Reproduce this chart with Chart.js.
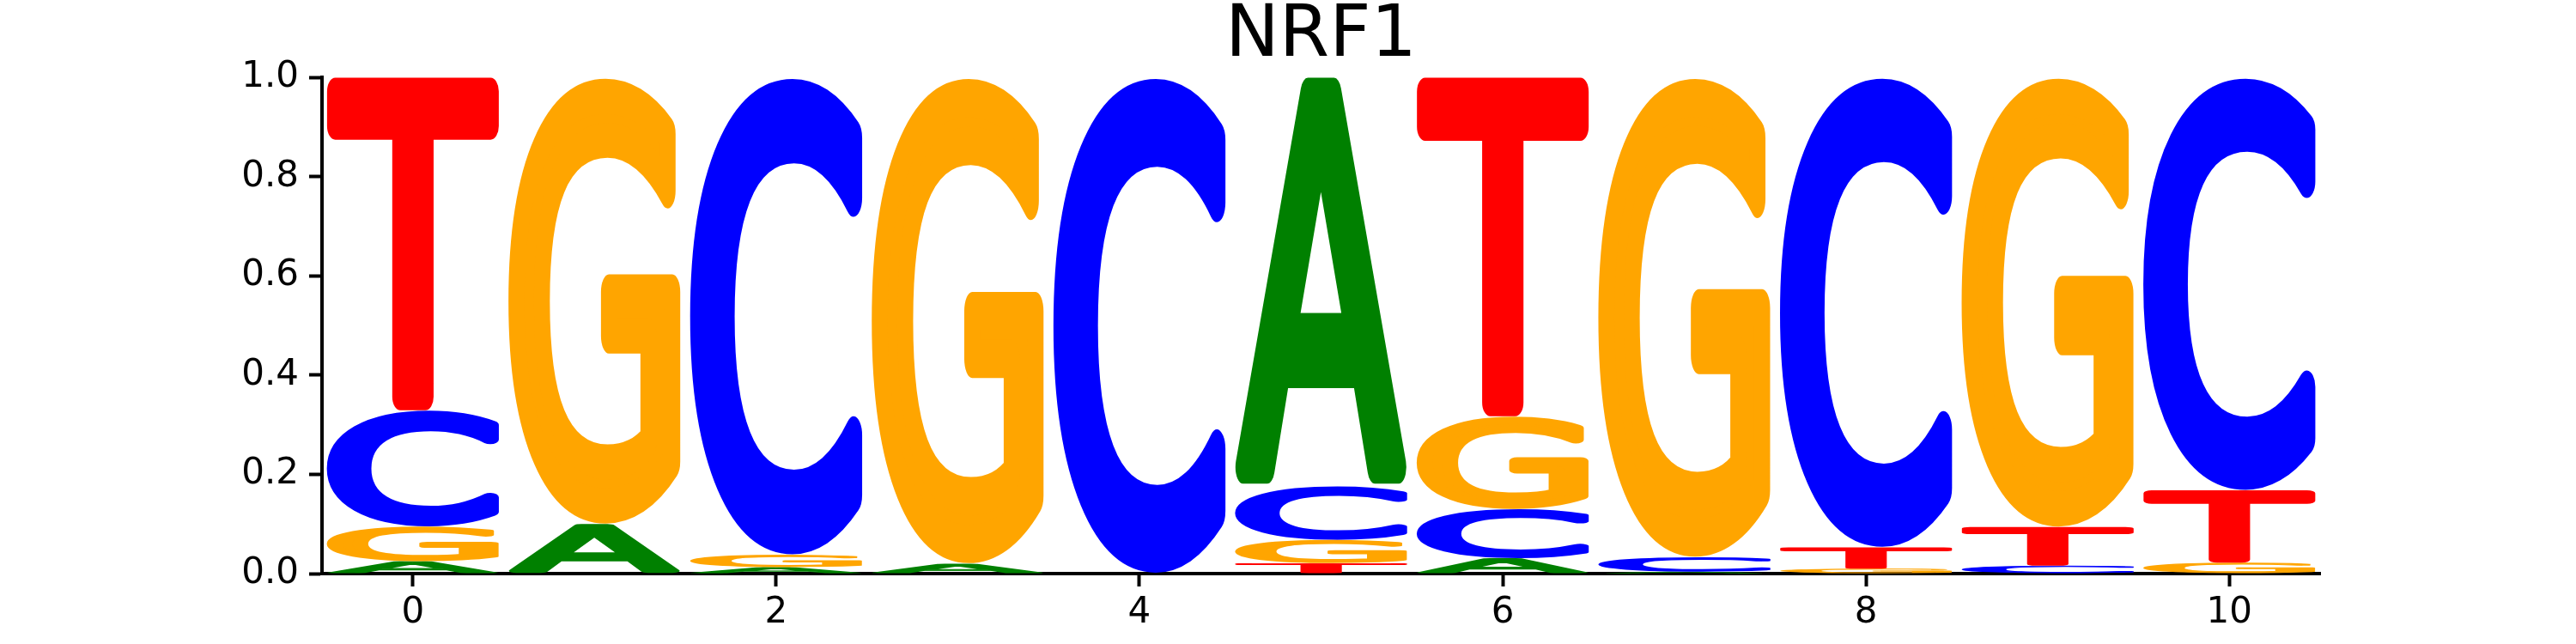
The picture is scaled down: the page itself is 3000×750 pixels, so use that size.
<!DOCTYPE html>
<html>
<head>
<meta charset="utf-8">
<script src="https://cdn.jsdelivr.net/npm/chart.js@4"></script>
<style>
  html, body { margin: 0; padding: 0; background: #fff; }
  canvas { display: block; }
</style>
</head>
<body>
<canvas id="myChart" width="3000" height="750"></canvas>
<script>
// letter probabilities per motif position
var positions = [0, 1, 2, 3, 4, 5, 6, 7, 8, 9, 10];
var probA = [0.025, 0.10, 0.013, 0.02, 0.0, 0.824, 0.031, 0.004, 0.0, 0.0, 0.0];
var probC = [0.234, 0.0, 0.962, 0.0, 1.0, 0.108, 0.099, 0.029, 0.947, 0.016, 0.832];
var probG = [0.07, 0.90, 0.025, 0.98, 0.0, 0.047, 0.187, 0.967, 0.01, 0.906, 0.022];
var probT = [0.671, 0.0, 0.0, 0.0, 0.0, 0.021, 0.683, 0.0, 0.043, 0.078, 0.146];
var xTicks = [0, 2, 4, 6, 8, 10];
var yTicks = [0, 0.2, 0.4, 0.6, 0.8, 1.0];
var titleText = "NRF1";

var letters = ["A", "C", "G", "T"];
var probs = [probA, probC, probG, probT];
var
	green = "#008000",
	blue = "#0000ff",
	orange = "#ffa500",
	red = "#ff0000";
var colors = [green, blue, orange, red];

// stack letters smallest at the bottom, per position
var ranges = letters.map(function() { return []; });
positions.forEach(function(p, i) {
	var order = [0, 1, 2, 3].sort(function(a, b) { return probs[a][i] - probs[b][i]; });
	var acc = 0;
	order.forEach(function(k) {
		var v = probs[k][i];
		ranges[k].push({ x: p, y: [acc, acc + v] });
		acc += v;
	});
});

// rounded glyphs: regular face plus a round-joined outline
var glyphSize = 200;
var glyphFont = glyphSize + "px 'DejaVu Sans'";
var glyphStroke = 0.065 * glyphSize;

var letterPlugin = {
	id: "letters",
	afterDatasetsDraw: function(chart) {
		var ctx = chart.ctx;
		chart.data.datasets.forEach(function(ds, di) {
			var meta = chart.getDatasetMeta(di);
			meta.data.forEach(function(el, j) {
				var r = ds.data[j].y;
				if (r[1] - r[0] <= 0) return;
				var p = el.getProps(["x", "y", "base", "width"], true);
				var left = p.x - p.width / 2;
				var top = Math.min(p.y, p.base);
				var h = Math.abs(p.base - p.y);
				ctx.save();
				ctx.font = glyphFont;
				ctx.textAlign = "left";
				ctx.textBaseline = "alphabetic";
				var m = ctx.measureText(ds.label);
				var gw = m.actualBoundingBoxLeft + m.actualBoundingBoxRight + glyphStroke;
				var gh = m.actualBoundingBoxAscent + m.actualBoundingBoxDescent + glyphStroke;
				ctx.translate(left, top);
				ctx.scale(p.width / gw, h / gh);
				ctx.fillStyle = ds.letterColor;
				ctx.strokeStyle = ds.letterColor;
				ctx.lineWidth = glyphStroke;
				ctx.lineJoin = "round";
				var ox = m.actualBoundingBoxLeft + glyphStroke / 2;
				var oy = m.actualBoundingBoxAscent + glyphStroke / 2;
				ctx.fillText(ds.label, ox, oy);
				ctx.strokeText(ds.label, ox, oy);
				ctx.restore();
			});
		});
	}
};

var titlePlugin = {
	id: "axesTitle",
	afterDraw: function(chart) {
		var ctx = chart.ctx;
		var area = chart.chartArea;
		ctx.save();
		ctx.font = "84px 'DejaVu Sans'";
		ctx.fillStyle = "#000";
		ctx.textAlign = "center";
		ctx.textBaseline = "alphabetic";
		ctx.fillText(titleText, (area.left + area.right) / 2, 65);
		ctx.restore();
	}
};

var ctx = document.getElementById("myChart").getContext("2d");

var myChart = new Chart(ctx, {
	type: "bar",
	data: {
		datasets: letters.map(function(l, k) {
			return {
				label: l,
				data: ranges[k],
				letterColor: colors[k],
				backgroundColor: "rgba(0,0,0,0)",
				borderWidth: 0,
				barPercentage: 0.95,
				categoryPercentage: 1.0
			};
		})
	},
	options: {
		responsive: false,
		animation: false,
		devicePixelRatio: 1,
		layout: { padding: { left: 0, right: 298, top: 90, bottom: 0 } },
		plugins: {
			legend: { display: false },
			tooltip: { enabled: false },
			title: { display: false }
		},
		scales: {
			x: {
				type: "linear",
				min: -0.5,
				max: 10.5,
				offset: false,
				stacked: true,
				afterBuildTicks: function(axis) {
					axis.ticks = xTicks.map(function(v) { return { value: v }; });
				},
				afterFit: function(scale) { scale.height = 82; },
				grid: { display: true, offset: false, drawOnChartArea: false, drawTicks: true, tickLength: 15, tickWidth: 4, tickColor: "#000" },
				border: { display: true, color: "#000", width: 4 },
				ticks: {
					color: "#000",
					padding: 6,
					font: { family: "'DejaVu Sans'", size: 42 },
					callback: function(v) { return String(v); }
				}
			},
			y: {
				min: 0,
				max: 1,
				stacked: false,
				afterBuildTicks: function(axis) {
					axis.ticks = yTicks.map(function(v) { return { value: v }; });
				},
				afterFit: function(scale) { scale.width = 375; },
				grid: { display: true, drawOnChartArea: false, drawTicks: true, tickLength: 15, tickWidth: 4, tickColor: "#000" },
				border: { display: true, color: "#000", width: 4 },
				ticks: {
					color: "#000",
					padding: 12,
					font: { family: "'DejaVu Sans'", size: 42 },
					callback: function(v) { return v.toFixed(1); }
				}
			}
		}
	},
	plugins: [letterPlugin, titlePlugin]
});
</script>
</body>
</html>
